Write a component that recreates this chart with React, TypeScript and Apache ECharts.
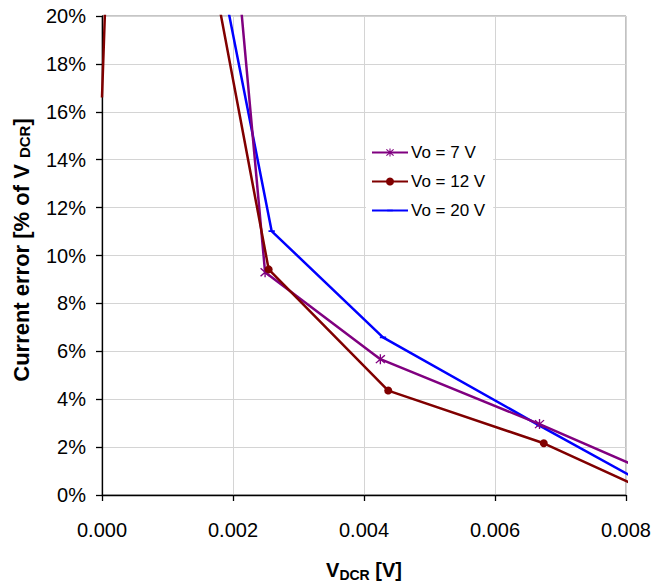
import React, { useEffect, useRef } from "react";
import * as echarts from "echarts";

// Data (x in volts, y in percent of V_DCR)
const vo7X = [0.0018, 0.00249, 0.00425, 0.00668, 0.00808];
const vo7Y = [30.1, 9.3, 5.67, 2.96, 1.29];
const vo12X = [0.0, 0.00032, 0.002545, 0.00437, 0.006745, 0.00808];
const vo12Y = [16.6, 41.8, 9.42, 4.36, 2.16, 0.49];
const vo20X = [0.0016, 0.00259, 0.00429, 0.00668, 0.00808];
const vo20Y = [24.8, 11.02, 6.58, 2.9, 0.79];

const seriesNames = ["Vo = 7 V", "Vo = 12 V", "Vo = 20 V"];
const seriesColors = ["#800080", "#800000", "#0000FF"];

const xMin = 0;
const xMax = 0.008;
const xStep = 0.002;
const yMin = 0;
const yMax = 20;
const yStep = 2;

const FONT = "'Liberation Sans', Arial, sans-serif";

const asterisk =
  "path://M4.4 0 L5.6 0 L5.6 10 L4.4 10 Z M0.6 1.45 L1.45 0.6 L9.4 8.55 L8.55 9.4 Z M8.55 0.6 L9.4 1.45 L1.45 9.4 L0.6 8.55 Z";
// short horizontal dash inside a square bounding box (corner specks keep the box square)
const dash =
  "path://M0 0 L0.01 0 L0 0.01 Z M10 10 L9.99 10 L10 9.99 Z M1.5 4 L8.5 4 L8.5 6 L1.5 6 Z";

function pairs(xs: number[], ys: number[]) {
  return xs.map((x, i) => [x, ys[i]]);
}

export default function App() {
  const ref = useRef<HTMLDivElement>(null);
  useEffect(() => {
    if (!ref.current) return;
    const chart = echarts.init(ref.current, null, { renderer: "svg" });
    const vo12Data: any[] = pairs(vo12X, vo12Y).map((p, i) =>
      i === 0 ? { value: p, symbol: "none" } : p
    );
    chart.setOption({
      animation: false,
      backgroundColor: "#ffffff",
      grid: {
        left: 102,
        top: 16,
        width: 525,
        height: 479,
        show: true,
        borderColor: "#8c8c8c",
        borderWidth: 1,
        backgroundColor: "transparent",
      },
      legend: {
        orient: "vertical",
        left: 366,
        top: 139,
        padding: [5, 8, 5, 5],
        backgroundColor: "#ffffff",
        itemWidth: 36,
        itemHeight: 10,
        itemGap: 12,
        textStyle: { fontFamily: FONT, fontSize: 17, color: "#000", padding: [0, 0, 0, -2] },
        data: seriesNames,
      },
      xAxis: {
        type: "value",
        min: xMin,
        max: xMax,
        interval: xStep,
        name: "{v|V}{s|DCR}{v| [V]}",
        nameLocation: "middle",
        nameGap: 65,
        nameTextStyle: {
          rich: {
            v: { fontFamily: FONT, fontSize: 20, fontWeight: "bold", color: "#000", verticalAlign: "bottom" },
            s: { fontFamily: FONT, fontSize: 14, fontWeight: "bold", color: "#000", verticalAlign: "bottom", padding: [0, 0, -2, 0] },
          },
        },
        axisLine: { show: true, lineStyle: { color: "#000", width: 1.3 } },
        axisTick: { show: true, inside: false, length: 6, lineStyle: { color: "#000", width: 1.3 } },
        axisLabel: {
          fontFamily: FONT,
          fontSize: 20,
          color: "#000",
          margin: 25,
          formatter: (v: number) => v.toFixed(3),
        },
        splitLine: { show: true, lineStyle: { color: "#d4d4d4", width: 1 } },
      },
      yAxis: {
        type: "value",
        min: yMin,
        max: yMax,
        interval: yStep,
        name: "{v|Current error [% of V }{s|DCR}{v|]}",
        nameLocation: "middle",
        nameGap: 70,
        nameTextStyle: {
          padding: [0, 0, 0, 11],
          rich: {
            v: { fontFamily: FONT, fontSize: 22, fontWeight: "bold", color: "#000", verticalAlign: "bottom" },
            s: { fontFamily: FONT, fontSize: 15, fontWeight: "bold", color: "#000", verticalAlign: "bottom" },
          },
        },
        axisLine: { show: true, lineStyle: { color: "#000", width: 1.3 } },
        axisTick: { show: true, inside: false, length: 6, lineStyle: { color: "#000", width: 1.3 } },
        axisLabel: {
          fontFamily: FONT,
          fontSize: 20,
          color: "#000",
          margin: 16,
          formatter: (v: number) => v + "%",
        },
        splitLine: { show: true, lineStyle: { color: "#d4d4d4", width: 1 } },
      },
      series: [
        {
          name: seriesNames[0],
          type: "line",
          data: pairs(vo7X, vo7Y),
          clip: true,
          color: seriesColors[0],
          lineStyle: { width: 2.5, color: seriesColors[0] },
          symbol: asterisk,
          symbolSize: 10,
          itemStyle: { color: seriesColors[0] },
          z: 3,
        },
        {
          name: seriesNames[1],
          type: "line",
          data: vo12Data,
          clip: true,
          color: seriesColors[1],
          lineStyle: { width: 2.5, color: seriesColors[1] },
          symbol: "circle",
          symbolSize: 8,
          itemStyle: { color: seriesColors[1] },
          z: 4,
        },
        {
          name: seriesNames[2],
          type: "line",
          data: pairs(vo20X, vo20Y),
          clip: true,
          color: seriesColors[2],
          lineStyle: { width: 2.5, color: seriesColors[2] },
          symbol: dash,
          symbolSize: 9,
          itemStyle: { color: seriesColors[2] },
          z: 2,
        },
      ],
    });
    return () => chart.dispose();
  }, []);
  return (
    <div
      ref={ref}
      style={{ position: "fixed", left: 0, top: 0, width: 654, height: 588, background: "#fff" }}
    />
  );
}
